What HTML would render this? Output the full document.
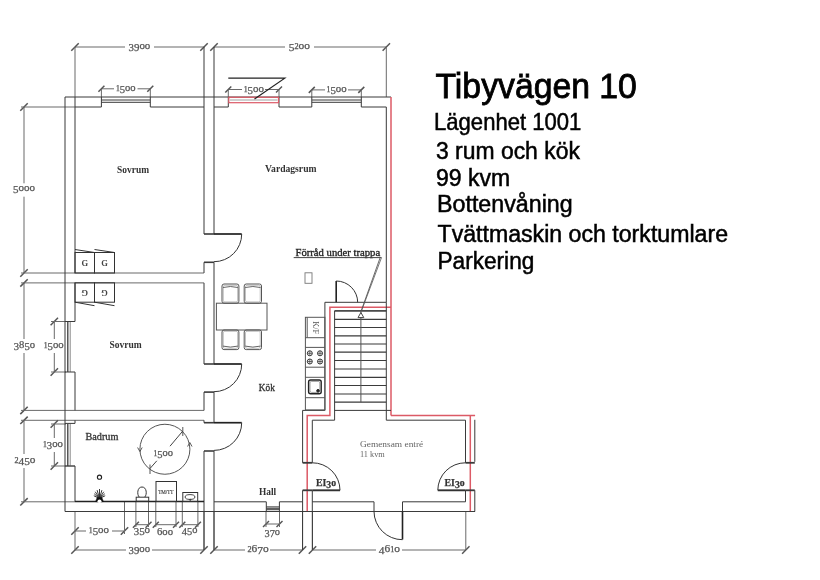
<!DOCTYPE html>
<html><head><meta charset="utf-8"><style>
html,body{margin:0;padding:0;background:#fff;width:820px;height:580px;overflow:hidden}
svg{position:absolute;left:0;top:0}
.t{position:absolute;font-family:"Liberation Sans",sans-serif;color:#000;white-space:nowrap;line-height:1}
</style></head><body>
<svg width="820" height="580" viewBox="0 0 820 580">
<defs><filter id="b" x="0" y="0" width="820" height="580" filterUnits="userSpaceOnUse"><feGaussianBlur stdDeviation="0.35"/></filter><filter id="b2" x="0" y="0" width="820" height="580" filterUnits="userSpaceOnUse"><feGaussianBlur stdDeviation="0.2"/></filter></defs>
<g filter="url(#b)">
<line x1="75" y1="47" x2="125" y2="47" stroke="#6a6a6a" stroke-width="1" />
<line x1="154" y1="47" x2="204" y2="47" stroke="#6a6a6a" stroke-width="1" />
<line x1="71.3" y1="50.7" x2="78.7" y2="43.3" stroke="#555" stroke-width="1.5" />
<line x1="200.3" y1="50.7" x2="207.7" y2="43.3" stroke="#555" stroke-width="1.5" />
<text x="128.50" y="49.00" font-family="Liberation Serif" font-size="10" font-weight="normal" fill="#555" stroke="#555" stroke-width="0.25" textLength="21.80" lengthAdjust="spacingAndGlyphs"><tspan baseline-shift="-2.03">3</tspan><tspan baseline-shift="-2.03">9</tspan><tspan>o</tspan><tspan>o</tspan></text>
<line x1="214" y1="47" x2="285" y2="47" stroke="#6a6a6a" stroke-width="1" />
<line x1="314" y1="47" x2="386.3" y2="47" stroke="#6a6a6a" stroke-width="1" />
<line x1="210.3" y1="50.7" x2="217.7" y2="43.3" stroke="#555" stroke-width="1.5" />
<line x1="382.6" y1="50.7" x2="390.0" y2="43.3" stroke="#555" stroke-width="1.5" />
<text x="288.80" y="49.00" font-family="Liberation Serif" font-size="10" font-weight="normal" fill="#555" stroke="#555" stroke-width="0.25" textLength="21.20" lengthAdjust="spacingAndGlyphs"><tspan baseline-shift="-2.03">5</tspan><tspan font-size="7.20">2</tspan><tspan>o</tspan><tspan>o</tspan></text>
<line x1="75" y1="47" x2="75" y2="97" stroke="#6a6a6a" stroke-width="1" />
<line x1="204" y1="47" x2="204" y2="97" stroke="#3a3a3a" stroke-width="1" />
<line x1="214" y1="47" x2="214" y2="97" stroke="#3a3a3a" stroke-width="1" />
<line x1="386.3" y1="47" x2="386.3" y2="97" stroke="#6a6a6a" stroke-width="1" />
<line x1="101.4" y1="88.8" x2="114" y2="88.8" stroke="#6a6a6a" stroke-width="1" />
<line x1="137.5" y1="88.8" x2="150.3" y2="88.8" stroke="#6a6a6a" stroke-width="1" />
<line x1="98.4" y1="91.8" x2="104.4" y2="85.8" stroke="#555" stroke-width="1.5" />
<line x1="147.3" y1="91.8" x2="153.3" y2="85.8" stroke="#555" stroke-width="1.5" />
<line x1="101.4" y1="88.8" x2="101.4" y2="97" stroke="#6a6a6a" stroke-width="1" />
<line x1="150.3" y1="88.8" x2="150.3" y2="97" stroke="#6a6a6a" stroke-width="1" />
<text x="115.90" y="90.80" font-family="Liberation Serif" font-size="10" font-weight="normal" fill="#555" stroke="#555" stroke-width="0.25" textLength="19.70" lengthAdjust="spacingAndGlyphs"><tspan font-size="7.20">1</tspan><tspan baseline-shift="-2.03">5</tspan><tspan>o</tspan><tspan>o</tspan></text>
<line x1="228.3" y1="89.5" x2="242" y2="89.5" stroke="#6a6a6a" stroke-width="1" />
<line x1="265" y1="89.5" x2="279" y2="89.5" stroke="#6a6a6a" stroke-width="1" />
<line x1="225.3" y1="92.5" x2="231.3" y2="86.5" stroke="#555" stroke-width="1.5" />
<line x1="276" y1="92.5" x2="282" y2="86.5" stroke="#555" stroke-width="1.5" />
<line x1="228.3" y1="89.5" x2="228.3" y2="97" stroke="#6a6a6a" stroke-width="1" />
<line x1="279" y1="89.5" x2="279" y2="97" stroke="#6a6a6a" stroke-width="1" />
<text x="243.70" y="91.50" font-family="Liberation Serif" font-size="10" font-weight="normal" fill="#555" stroke="#555" stroke-width="0.25" textLength="20.20" lengthAdjust="spacingAndGlyphs"><tspan font-size="7.20">1</tspan><tspan baseline-shift="-2.03">5</tspan><tspan>o</tspan><tspan>o</tspan></text>
<line x1="311.8" y1="89.9" x2="325" y2="89.9" stroke="#6a6a6a" stroke-width="1" />
<line x1="348" y1="89.9" x2="361.3" y2="89.9" stroke="#6a6a6a" stroke-width="1" />
<line x1="308.8" y1="92.9" x2="314.8" y2="86.9" stroke="#555" stroke-width="1.5" />
<line x1="358.3" y1="92.9" x2="364.3" y2="86.9" stroke="#555" stroke-width="1.5" />
<line x1="311.8" y1="89.9" x2="311.8" y2="97" stroke="#6a6a6a" stroke-width="1" />
<line x1="361.3" y1="89.9" x2="361.3" y2="97" stroke="#6a6a6a" stroke-width="1" />
<text x="326.60" y="91.90" font-family="Liberation Serif" font-size="10" font-weight="normal" fill="#555" stroke="#555" stroke-width="0.25" textLength="20.10" lengthAdjust="spacingAndGlyphs"><tspan font-size="7.20">1</tspan><tspan baseline-shift="-2.03">5</tspan><tspan>o</tspan><tspan>o</tspan></text>
<line x1="24" y1="107" x2="24" y2="183.3" stroke="#6a6a6a" stroke-width="1" />
<line x1="24" y1="196.7" x2="24" y2="273" stroke="#6a6a6a" stroke-width="1" />
<line x1="20.3" y1="110.7" x2="27.7" y2="103.3" stroke="#555" stroke-width="1.5" />
<line x1="20.3" y1="276.7" x2="27.7" y2="269.3" stroke="#555" stroke-width="1.5" />
<text x="13.00" y="191.29" font-family="Liberation Serif" font-size="10" font-weight="normal" fill="#555" stroke="#555" stroke-width="0.25" textLength="22.00" lengthAdjust="spacingAndGlyphs"><tspan baseline-shift="-2.03">5</tspan><tspan>o</tspan><tspan>o</tspan><tspan>o</tspan></text>
<line x1="24" y1="282.9" x2="24" y2="339" stroke="#6a6a6a" stroke-width="1" />
<line x1="24" y1="353" x2="24" y2="410.4" stroke="#6a6a6a" stroke-width="1" />
<line x1="20.3" y1="286.59999999999997" x2="27.7" y2="279.2" stroke="#555" stroke-width="1.5" />
<line x1="20.3" y1="414.09999999999997" x2="27.7" y2="406.7" stroke="#555" stroke-width="1.5" />
<text x="13.75" y="348.00" font-family="Liberation Serif" font-size="10" font-weight="normal" fill="#555" stroke="#555" stroke-width="0.25" textLength="21.25" lengthAdjust="spacingAndGlyphs"><tspan baseline-shift="-2.03">3</tspan><tspan>8</tspan><tspan baseline-shift="-2.03">5</tspan><tspan>o</tspan></text>
<line x1="24" y1="420.3" x2="24" y2="454" stroke="#6a6a6a" stroke-width="1" />
<line x1="24" y1="468" x2="24" y2="501.8" stroke="#6a6a6a" stroke-width="1" />
<line x1="20.3" y1="424.0" x2="27.7" y2="416.6" stroke="#555" stroke-width="1.5" />
<line x1="20.3" y1="505.5" x2="27.7" y2="498.1" stroke="#555" stroke-width="1.5" />
<text x="14.50" y="463.00" font-family="Liberation Serif" font-size="10" font-weight="normal" fill="#555" stroke="#555" stroke-width="0.25" textLength="21.00" lengthAdjust="spacingAndGlyphs"><tspan font-size="7.20">2</tspan><tspan baseline-shift="-2.03">4</tspan><tspan baseline-shift="-2.03">5</tspan><tspan>o</tspan></text>
<line x1="21" y1="107" x2="75" y2="107" stroke="#6a6a6a" stroke-width="1" />
<line x1="21" y1="273" x2="204" y2="273" stroke="#6a6a6a" stroke-width="1" />
<line x1="21" y1="282.9" x2="204" y2="282.9" stroke="#6a6a6a" stroke-width="1" />
<line x1="21" y1="410.4" x2="204" y2="410.4" stroke="#6a6a6a" stroke-width="1" />
<line x1="21" y1="420.3" x2="204" y2="420.3" stroke="#6a6a6a" stroke-width="1" />
<line x1="21" y1="501.8" x2="75" y2="501.8" stroke="#6a6a6a" stroke-width="1" />
<line x1="54.3" y1="321.5" x2="54.3" y2="339" stroke="#6a6a6a" stroke-width="1" />
<line x1="54.3" y1="353" x2="54.3" y2="372" stroke="#6a6a6a" stroke-width="1" />
<line x1="50.599999999999994" y1="325.2" x2="58.0" y2="317.8" stroke="#555" stroke-width="1.5" />
<line x1="50.599999999999994" y1="375.7" x2="58.0" y2="368.3" stroke="#555" stroke-width="1.5" />
<text x="43.75" y="348.00" font-family="Liberation Serif" font-size="10" font-weight="normal" fill="#555" stroke="#555" stroke-width="0.25" textLength="20.00" lengthAdjust="spacingAndGlyphs"><tspan font-size="7.20">1</tspan><tspan baseline-shift="-2.03">5</tspan><tspan>o</tspan><tspan>o</tspan></text>
<line x1="51" y1="321.5" x2="75" y2="321.5" stroke="#6a6a6a" stroke-width="1" />
<line x1="51" y1="372" x2="66" y2="372" stroke="#6a6a6a" stroke-width="1" />
<line x1="54.3" y1="424" x2="54.3" y2="438" stroke="#6a6a6a" stroke-width="1" />
<line x1="54.3" y1="452" x2="54.3" y2="466" stroke="#6a6a6a" stroke-width="1" />
<line x1="50.599999999999994" y1="427.7" x2="58.0" y2="420.3" stroke="#555" stroke-width="1.5" />
<line x1="50.599999999999994" y1="469.7" x2="58.0" y2="462.3" stroke="#555" stroke-width="1.5" />
<text x="43.00" y="447.00" font-family="Liberation Serif" font-size="10" font-weight="normal" fill="#555" stroke="#555" stroke-width="0.25" textLength="20.00" lengthAdjust="spacingAndGlyphs"><tspan font-size="7.20">1</tspan><tspan baseline-shift="-2.03">3</tspan><tspan>o</tspan><tspan>o</tspan></text>
<line x1="51" y1="466" x2="75" y2="466" stroke="#6a6a6a" stroke-width="1" />
<line x1="51" y1="424" x2="66" y2="424" stroke="#6a6a6a" stroke-width="1" />
<line x1="75" y1="531" x2="86" y2="531" stroke="#6a6a6a" stroke-width="1" />
<line x1="112" y1="531" x2="124.5" y2="531" stroke="#6a6a6a" stroke-width="1" />
<line x1="71.3" y1="534.7" x2="78.7" y2="527.3" stroke="#555" stroke-width="1.5" />
<line x1="120.8" y1="534.7" x2="128.2" y2="527.3" stroke="#555" stroke-width="1.5" />
<text x="88.80" y="533.00" font-family="Liberation Serif" font-size="10" font-weight="normal" fill="#555" stroke="#555" stroke-width="0.25" textLength="20.20" lengthAdjust="spacingAndGlyphs"><tspan font-size="7.20">1</tspan><tspan baseline-shift="-2.03">5</tspan><tspan>o</tspan><tspan>o</tspan></text>
<line x1="135.9" y1="524.7" x2="148.5" y2="524.7" stroke="#6a6a6a" stroke-width="1" />
<line x1="132.9" y1="527.7" x2="138.9" y2="521.7" stroke="#555" stroke-width="1.5" />
<line x1="145.5" y1="527.7" x2="151.5" y2="521.7" stroke="#555" stroke-width="1.5" />
<text x="133.70" y="533.00" font-family="Liberation Serif" font-size="10" font-weight="normal" fill="#555" stroke="#555" stroke-width="0.25" textLength="16.40" lengthAdjust="spacingAndGlyphs"><tspan baseline-shift="-2.03">3</tspan><tspan baseline-shift="-2.03">5</tspan><tspan>o</tspan></text>
<line x1="155.8" y1="524.7" x2="176" y2="524.7" stroke="#6a6a6a" stroke-width="1" />
<line x1="152.8" y1="527.7" x2="158.8" y2="521.7" stroke="#555" stroke-width="1.5" />
<line x1="173" y1="527.7" x2="179" y2="521.7" stroke="#555" stroke-width="1.5" />
<text x="157.00" y="535.00" font-family="Liberation Serif" font-size="10" font-weight="normal" fill="#555" stroke="#555" stroke-width="0.25" textLength="16.00" lengthAdjust="spacingAndGlyphs"><tspan>6</tspan><tspan>o</tspan><tspan>o</tspan></text>
<line x1="182.3" y1="524.7" x2="197.9" y2="524.7" stroke="#6a6a6a" stroke-width="1" />
<line x1="179.3" y1="527.7" x2="185.3" y2="521.7" stroke="#555" stroke-width="1.5" />
<line x1="194.9" y1="527.7" x2="200.9" y2="521.7" stroke="#555" stroke-width="1.5" />
<text x="181.80" y="533.00" font-family="Liberation Serif" font-size="10" font-weight="normal" fill="#555" stroke="#555" stroke-width="0.25" textLength="15.60" lengthAdjust="spacingAndGlyphs"><tspan baseline-shift="-2.03">4</tspan><tspan baseline-shift="-2.03">5</tspan><tspan>o</tspan></text>
<line x1="75" y1="550" x2="126" y2="550" stroke="#6a6a6a" stroke-width="1" />
<line x1="152" y1="550" x2="204" y2="550" stroke="#6a6a6a" stroke-width="1" />
<line x1="71.3" y1="553.7" x2="78.7" y2="546.3" stroke="#555" stroke-width="1.5" />
<line x1="200.3" y1="553.7" x2="207.7" y2="546.3" stroke="#555" stroke-width="1.5" />
<text x="128.50" y="552.00" font-family="Liberation Serif" font-size="10" font-weight="normal" fill="#555" stroke="#555" stroke-width="0.25" textLength="21.60" lengthAdjust="spacingAndGlyphs"><tspan baseline-shift="-2.03">3</tspan><tspan baseline-shift="-2.03">9</tspan><tspan>o</tspan><tspan>o</tspan></text>
<line x1="214" y1="550" x2="245" y2="550" stroke="#6a6a6a" stroke-width="1" />
<line x1="270" y1="550" x2="302.5" y2="550" stroke="#6a6a6a" stroke-width="1" />
<line x1="210.3" y1="553.7" x2="217.7" y2="546.3" stroke="#555" stroke-width="1.5" />
<line x1="298.8" y1="553.7" x2="306.2" y2="546.3" stroke="#555" stroke-width="1.5" />
<text x="247.50" y="552.00" font-family="Liberation Serif" font-size="10" font-weight="normal" fill="#555" stroke="#555" stroke-width="0.25" textLength="21.25" lengthAdjust="spacingAndGlyphs"><tspan font-size="7.20">2</tspan><tspan>6</tspan><tspan baseline-shift="-2.03">7</tspan><tspan>o</tspan></text>
<line x1="312.5" y1="550" x2="376" y2="550" stroke="#6a6a6a" stroke-width="1" />
<line x1="402" y1="550" x2="465.8" y2="550" stroke="#6a6a6a" stroke-width="1" />
<line x1="308.8" y1="553.7" x2="316.2" y2="546.3" stroke="#555" stroke-width="1.5" />
<line x1="462.1" y1="553.7" x2="469.5" y2="546.3" stroke="#555" stroke-width="1.5" />
<text x="378.75" y="552.00" font-family="Liberation Serif" font-size="10" font-weight="normal" fill="#555" stroke="#555" stroke-width="0.25" textLength="21.25" lengthAdjust="spacingAndGlyphs"><tspan baseline-shift="-2.03">4</tspan><tspan>6</tspan><tspan font-size="7.20">1</tspan><tspan>o</tspan></text>
<line x1="266" y1="524" x2="279.5" y2="524" stroke="#6a6a6a" stroke-width="1" />
<line x1="263" y1="527" x2="269" y2="521" stroke="#555" stroke-width="1.5" />
<line x1="276.5" y1="527" x2="282.5" y2="521" stroke="#555" stroke-width="1.5" />
<text x="264.50" y="535.00" font-family="Liberation Serif" font-size="10" font-weight="normal" fill="#555" stroke="#555" stroke-width="0.25" textLength="15.50" lengthAdjust="spacingAndGlyphs"><tspan baseline-shift="-2.03">3</tspan><tspan baseline-shift="-2.03">7</tspan><tspan>o</tspan></text>
<line x1="75" y1="511" x2="75" y2="550" stroke="#6a6a6a" stroke-width="1" />
<line x1="204" y1="511" x2="204" y2="550" stroke="#6a6a6a" stroke-width="1" />
<line x1="214" y1="511" x2="214" y2="550" stroke="#6a6a6a" stroke-width="1" />
<line x1="302.5" y1="511" x2="302.5" y2="550" stroke="#6a6a6a" stroke-width="1" />
<line x1="312.5" y1="511" x2="312.5" y2="550" stroke="#6a6a6a" stroke-width="1" />
<line x1="465.8" y1="511" x2="465.8" y2="550" stroke="#6a6a6a" stroke-width="1" />
<line x1="124.5" y1="501.8" x2="124.5" y2="534" stroke="#6a6a6a" stroke-width="1" />
<line x1="135.9" y1="501.8" x2="135.9" y2="527" stroke="#6a6a6a" stroke-width="1" />
<line x1="148.5" y1="501.8" x2="148.5" y2="527" stroke="#6a6a6a" stroke-width="1" />
<line x1="155.8" y1="501.8" x2="155.8" y2="527" stroke="#6a6a6a" stroke-width="1" />
<line x1="176" y1="501.8" x2="176" y2="527" stroke="#6a6a6a" stroke-width="1" />
<line x1="182.3" y1="501.8" x2="182.3" y2="527" stroke="#6a6a6a" stroke-width="1" />
<line x1="197.9" y1="501.8" x2="197.9" y2="527" stroke="#6a6a6a" stroke-width="1" />
<line x1="266" y1="511" x2="266" y2="527" stroke="#6a6a6a" stroke-width="1" />
<line x1="279.5" y1="511" x2="279.5" y2="527" stroke="#6a6a6a" stroke-width="1" />
<line x1="65" y1="97" x2="391" y2="97" stroke="#3a3a3a" stroke-width="1" />
<line x1="65" y1="97" x2="65" y2="511.5" stroke="#3a3a3a" stroke-width="1" />
<polyline points="75,107 101.4,107 101.4,97" stroke="#3a3a3a" stroke-width="1" fill="none"/>
<polyline points="150.3,97 150.3,107 204,107" stroke="#3a3a3a" stroke-width="1" fill="none"/>
<line x1="101.4" y1="100" x2="150.3" y2="100" stroke="#3a3a3a" stroke-width="1" />
<line x1="101.4" y1="102.3" x2="150.3" y2="102.3" stroke="#3a3a3a" stroke-width="1" />
<polyline points="214,107 228.3,107 228.3,97" stroke="#3a3a3a" stroke-width="1" fill="none"/>
<polyline points="279,97 279,107 311.8,107 311.8,97" stroke="#3a3a3a" stroke-width="1" fill="none"/>
<polyline points="361.3,97 361.3,107 386.3,107 386.3,302.3" stroke="#3a3a3a" stroke-width="1" fill="none"/>
<line x1="311.8" y1="100" x2="361.3" y2="100" stroke="#3a3a3a" stroke-width="1" />
<line x1="311.8" y1="102.3" x2="361.3" y2="102.3" stroke="#3a3a3a" stroke-width="1" />
<rect x="228.8" y="97.3" width="49.7" height="5.4" stroke="#dc5a66" stroke-width="1.2" fill="none" rx="0"/>
<line x1="230" y1="100" x2="277.5" y2="100" stroke="#888" stroke-width="0.8" />
<polyline points="228.3,78.2 284.8,78.2 254.5,99.1" stroke="#222" stroke-width="1.2" fill="none"/>
<line x1="391" y1="97" x2="391" y2="415.4" stroke="#dc5a66" stroke-width="1.5" />
<polyline points="391,415.4 475.1,415.4" stroke="#dc5a66" stroke-width="1.5" fill="none"/>
<line x1="470.3" y1="415.4" x2="470.3" y2="511.7" stroke="#dc5a66" stroke-width="1.5" />
<polyline points="391,307.2 329.9,307.2 329.9,415.4 307.2,415.4 307.2,511.7" stroke="#dc5a66" stroke-width="1.5" fill="none"/>
<line x1="75" y1="97" x2="75" y2="273" stroke="#3a3a3a" stroke-width="1" />
<line x1="75" y1="282.9" x2="75" y2="321.5" stroke="#3a3a3a" stroke-width="1" />
<line x1="67.8" y1="321.5" x2="67.8" y2="372" stroke="#3a3a3a" stroke-width="1.3" />
<line x1="70.2" y1="321.5" x2="70.2" y2="372" stroke="#888" stroke-width="1" />
<line x1="65" y1="321.5" x2="75" y2="321.5" stroke="#3a3a3a" stroke-width="1" />
<line x1="65" y1="372" x2="75" y2="372" stroke="#3a3a3a" stroke-width="1" />
<line x1="75" y1="372" x2="75" y2="410.4" stroke="#3a3a3a" stroke-width="1" />
<line x1="67.8" y1="424" x2="67.8" y2="466" stroke="#3a3a3a" stroke-width="1.3" />
<line x1="70.2" y1="424" x2="70.2" y2="466" stroke="#888" stroke-width="1" />
<line x1="65" y1="423.4" x2="75" y2="423.4" stroke="#3a3a3a" stroke-width="1" />
<line x1="75" y1="420.3" x2="75" y2="423.4" stroke="#3a3a3a" stroke-width="1" />
<line x1="65" y1="466" x2="75" y2="466" stroke="#3a3a3a" stroke-width="1" />
<line x1="75" y1="466" x2="75" y2="501.8" stroke="#3a3a3a" stroke-width="1" />
<line x1="204" y1="97" x2="204" y2="234" stroke="#3a3a3a" stroke-width="1" />
<line x1="204" y1="262.3" x2="204" y2="273" stroke="#3a3a3a" stroke-width="1" />
<line x1="204" y1="282.9" x2="204" y2="364" stroke="#3a3a3a" stroke-width="1" />
<line x1="204" y1="392.1" x2="204" y2="410.4" stroke="#3a3a3a" stroke-width="1" />
<line x1="204" y1="420.3" x2="204" y2="422.7" stroke="#3a3a3a" stroke-width="1" />
<line x1="204" y1="451" x2="204" y2="550" stroke="#3a3a3a" stroke-width="1" />
<line x1="214" y1="97" x2="214" y2="234" stroke="#3a3a3a" stroke-width="1" />
<line x1="214" y1="262.3" x2="214" y2="364" stroke="#3a3a3a" stroke-width="1" />
<line x1="214" y1="392.1" x2="214" y2="422.7" stroke="#3a3a3a" stroke-width="1" />
<line x1="214" y1="451" x2="214" y2="550" stroke="#3a3a3a" stroke-width="1" />
<line x1="204" y1="234" x2="214" y2="234" stroke="#3a3a3a" stroke-width="1.6" />
<line x1="204" y1="262.3" x2="214" y2="262.3" stroke="#3a3a3a" stroke-width="1.6" />
<line x1="214" y1="234" x2="241.7" y2="234" stroke="#222" stroke-width="1.7" />
<path d="M241.7,234 A27.7,27.7 0 0 1 214,261.7" stroke="#333" stroke-width="1" fill="none"/>
<line x1="204" y1="364" x2="214" y2="364" stroke="#3a3a3a" stroke-width="1.6" />
<line x1="204" y1="392.1" x2="214" y2="392.1" stroke="#3a3a3a" stroke-width="1.6" />
<line x1="214" y1="364" x2="241.7" y2="364" stroke="#222" stroke-width="1.7" />
<path d="M241.7,364 A27.7,27.7 0 0 1 214,391.7" stroke="#333" stroke-width="1" fill="none"/>
<line x1="204" y1="422.7" x2="214" y2="422.7" stroke="#3a3a3a" stroke-width="1.6" />
<line x1="204" y1="451" x2="214" y2="451" stroke="#3a3a3a" stroke-width="1.6" />
<line x1="214" y1="422.7" x2="241.7" y2="422.7" stroke="#222" stroke-width="1.7" />
<path d="M241.7,422.7 A27.7,27.7 0 0 1 214,450.4" stroke="#333" stroke-width="1" fill="none"/>
<line x1="75" y1="501.5" x2="204" y2="501.5" stroke="#222" stroke-width="1.4" />
<line x1="65" y1="511.5" x2="475" y2="511.5" stroke="#3a3a3a" stroke-width="1" />
<polyline points="214,501.8 266.3,501.8 266.3,511.5" stroke="#3a3a3a" stroke-width="1" fill="none"/>
<polyline points="279.4,511.5 279.4,501.8 302.6,501.8" stroke="#3a3a3a" stroke-width="1" fill="none"/>
<line x1="266.3" y1="506.9" x2="279.4" y2="506.9" stroke="#3a3a3a" stroke-width="1" />
<line x1="266.3" y1="508.3" x2="279.4" y2="508.3" stroke="#3a3a3a" stroke-width="1" />
<line x1="266.3" y1="509.7" x2="279.4" y2="509.7" stroke="#3a3a3a" stroke-width="1" />
<line x1="302.6" y1="410.4" x2="302.6" y2="462.8" stroke="#3a3a3a" stroke-width="1" />
<line x1="302.6" y1="490.3" x2="302.6" y2="550" stroke="#3a3a3a" stroke-width="1" />
<line x1="312.3" y1="420.2" x2="312.3" y2="462.8" stroke="#3a3a3a" stroke-width="1" />
<line x1="312.3" y1="490.3" x2="312.3" y2="550" stroke="#3a3a3a" stroke-width="1" />
<polyline points="312.3,501.8 374,501.8 374,511.5" stroke="#3a3a3a" stroke-width="1" fill="none"/>
<polyline points="402.5,511.5 402.5,501.8 465.5,501.8" stroke="#3a3a3a" stroke-width="1" fill="none"/>
<line x1="402.5" y1="511.5" x2="402.5" y2="539.5" stroke="#222" stroke-width="1.6" />
<path d="M374,511.5 A28.5,28.5 0 0 0 402.5,539.7" stroke="#333" stroke-width="1" fill="none"/>
<polyline points="386.3,302.3 386.3,420.2 465.5,420.2 465.5,462.8" stroke="#3a3a3a" stroke-width="1" fill="none"/>
<line x1="465.5" y1="490.3" x2="465.5" y2="501.8" stroke="#3a3a3a" stroke-width="1" />
<line x1="474.8" y1="419.8" x2="474.8" y2="461.8" stroke="#3a3a3a" stroke-width="1" />
<line x1="474.8" y1="490.3" x2="474.8" y2="511.5" stroke="#3a3a3a" stroke-width="1" />
<line x1="302.6" y1="462.8" x2="312.3" y2="462.8" stroke="#3a3a3a" stroke-width="1.8" />
<line x1="302.6" y1="490.3" x2="312.3" y2="490.3" stroke="#3a3a3a" stroke-width="1.8" />
<line x1="465.5" y1="462.8" x2="474.8" y2="462.8" stroke="#3a3a3a" stroke-width="1.8" />
<line x1="465.5" y1="490.3" x2="474.8" y2="490.3" stroke="#3a3a3a" stroke-width="1.8" />
<line x1="312.3" y1="490.3" x2="340" y2="490.3" stroke="#333" stroke-width="1.9" />
<path d="M340,490.3 A27.6,27.6 0 0 0 312.3,462.8" stroke="#333" stroke-width="1" fill="none"/>
<line x1="437.8" y1="490.3" x2="465.5" y2="490.3" stroke="#333" stroke-width="1.9" />
<path d="M437.8,490.3 A27.6,27.6 0 0 1 465.5,462.8" stroke="#333" stroke-width="1" fill="none"/>
<polyline points="302.6,410.4 324.9,410.4 324.9,302.3 386.3,302.3" stroke="#3a3a3a" stroke-width="1" fill="none"/>
<polyline points="312.3,420.2 334.6,420.2 334.6,310.9 386.3,310.9" stroke="#3a3a3a" stroke-width="1" fill="none"/>
<line x1="334.6" y1="410.4" x2="391" y2="410.4" stroke="#3a3a3a" stroke-width="1" />
<line x1="334.6" y1="310.9" x2="386.3" y2="310.9" stroke="#3a3a3a" stroke-width="1.2" />
<line x1="334.6" y1="319.4" x2="386.3" y2="319.4" stroke="#3a3a3a" stroke-width="1.2" />
<line x1="334.6" y1="327.5" x2="386.3" y2="327.5" stroke="#3a3a3a" stroke-width="1.2" />
<line x1="334.6" y1="335.8" x2="386.3" y2="335.8" stroke="#3a3a3a" stroke-width="1.2" />
<line x1="334.6" y1="344" x2="386.3" y2="344" stroke="#3a3a3a" stroke-width="1.2" />
<line x1="334.6" y1="352.2" x2="386.3" y2="352.2" stroke="#3a3a3a" stroke-width="1.2" />
<line x1="334.6" y1="360.5" x2="386.3" y2="360.5" stroke="#3a3a3a" stroke-width="1.2" />
<line x1="334.6" y1="369" x2="386.3" y2="369" stroke="#3a3a3a" stroke-width="1.2" />
<line x1="334.6" y1="377.3" x2="386.3" y2="377.3" stroke="#3a3a3a" stroke-width="1.2" />
<line x1="334.6" y1="385.5" x2="386.3" y2="385.5" stroke="#3a3a3a" stroke-width="1.2" />
<line x1="334.6" y1="394" x2="386.3" y2="394" stroke="#3a3a3a" stroke-width="1.2" />
<line x1="334.6" y1="402.2" x2="386.3" y2="402.2" stroke="#3a3a3a" stroke-width="1.2" />
<line x1="360.9" y1="310.9" x2="360.9" y2="402.2" stroke="#555" stroke-width="1" />
<path d="M360.9,312.5 L358,317.6 L363.8,317.6 Z" stroke="#444" stroke-width="1" fill="#fff"/>
<line x1="336.2" y1="281" x2="336.2" y2="302.3" stroke="#222" stroke-width="1.6" />
<path d="M336.2,281 A21.5,21.5 0 0 1 357.7,302.3" stroke="#333" stroke-width="1" fill="none"/>
<line x1="380" y1="258" x2="361.5" y2="310" stroke="#444" stroke-width="0.8" />
<text x="117" y="172.8" font-family="Liberation Serif" font-size="10.5" font-weight="bold" fill="#333"  textLength="32" lengthAdjust="spacingAndGlyphs">Sovrum</text>
<text x="265" y="171.7" font-family="Liberation Serif" font-size="10.5" font-weight="bold" fill="#333"  textLength="51.5" lengthAdjust="spacingAndGlyphs">Vardagsrum</text>
<text x="109.5" y="348.1" font-family="Liberation Serif" font-size="10.5" font-weight="bold" fill="#333"  textLength="32.3" lengthAdjust="spacingAndGlyphs">Sovrum</text>
<text x="258.8" y="390.6" font-family="Liberation Serif" font-size="10.5" font-weight="normal" fill="#333" stroke="#333" stroke-width="0.35" textLength="16.1" lengthAdjust="spacingAndGlyphs">Kök</text>
<text x="85.5" y="439.5" font-family="Liberation Serif" font-size="10.5" font-weight="normal" fill="#333" stroke="#333" stroke-width="0.3" textLength="32.9" lengthAdjust="spacingAndGlyphs">Badrum</text>
<text x="259" y="495.2" font-family="Liberation Serif" font-size="10" font-weight="bold" fill="#333"  textLength="17.2" lengthAdjust="spacingAndGlyphs">Hall</text>
<text x="295.5" y="255.9" font-family="Liberation Serif" font-size="9.5" font-weight="normal" fill="#222" stroke="#222" stroke-width="0.3" textLength="84.7" lengthAdjust="spacingAndGlyphs">Förråd under trappa</text>
<line x1="293.7" y1="257.6" x2="381.5" y2="257.6" stroke="#444" stroke-width="1" />
<line x1="381.5" y1="257.6" x2="361.8" y2="310" stroke="#555" stroke-width="0.8" />
<text x="360" y="446.7" font-family="Liberation Serif" font-size="8.5" font-weight="normal" fill="#666"  textLength="63.2" lengthAdjust="spacingAndGlyphs">Gemensam entré</text>
<text x="360" y="457" font-family="Liberation Serif" font-size="8.5" font-weight="normal" fill="#666"  textLength="24.7" lengthAdjust="spacingAndGlyphs">11 kvm</text>
<text x="315.90" y="485.61" font-family="Liberation Serif" font-size="10.5" font-weight="bold" fill="#333" stroke="#333" stroke-width="0.25" textLength="20.19" lengthAdjust="spacingAndGlyphs"><tspan>E</tspan><tspan>I</tspan><tspan baseline-shift="-2.13">3</tspan><tspan>o</tspan></text>
<text x="444.50" y="485.61" font-family="Liberation Serif" font-size="10.5" font-weight="bold" fill="#333" stroke="#333" stroke-width="0.25" textLength="20.19" lengthAdjust="spacingAndGlyphs"><tspan>E</tspan><tspan>I</tspan><tspan baseline-shift="-2.13">3</tspan><tspan>o</tspan></text>
<rect x="75" y="252.5" width="19.5" height="20.5" stroke="#333" stroke-width="1" fill="none" rx="0"/>
<line x1="75" y1="249.5" x2="94.5" y2="252.5" stroke="#333" stroke-width="1" />
<text x="84.75" y="265.5" font-family="Liberation Serif" font-size="8.5" font-weight="bold" fill="#444" text-anchor="middle" >G</text>
<rect x="94.5" y="252.5" width="20.0" height="20.5" stroke="#333" stroke-width="1" fill="none" rx="0"/>
<line x1="94.5" y1="249.5" x2="114.5" y2="252.5" stroke="#333" stroke-width="1" />
<text x="104.5" y="265.5" font-family="Liberation Serif" font-size="8.5" font-weight="bold" fill="#444" text-anchor="middle" >G</text>
<rect x="75" y="282.8" width="19.5" height="19.399999999999977" stroke="#333" stroke-width="1" fill="none" rx="0"/>
<line x1="75" y1="302.2" x2="94.5" y2="305.7" stroke="#333" stroke-width="1" />
<text x="84.75" y="295.3" font-family="Liberation Serif" font-size="8.5" font-weight="bold" fill="#444" text-anchor="middle" transform="rotate(180 84.75 292.5)">G</text>
<rect x="94.5" y="282.8" width="20.0" height="19.399999999999977" stroke="#333" stroke-width="1" fill="none" rx="0"/>
<line x1="94.5" y1="302.2" x2="114.5" y2="305.7" stroke="#333" stroke-width="1" />
<text x="104.5" y="295.3" font-family="Liberation Serif" font-size="8.5" font-weight="bold" fill="#444" text-anchor="middle" transform="rotate(180 104.5 292.5)">G</text>
<rect x="305" y="272.8" width="7" height="10.5" stroke="#777" stroke-width="0.9" fill="none" rx="0"/>
<rect x="216.4" y="303.2" width="50.6" height="26.8" stroke="#555" stroke-width="1" fill="#fff" rx="0"/>
<rect x="222" y="284" width="16.9" height="19.2" stroke="#555" stroke-width="1" fill="none" rx="2"/>
<rect x="223.3" y="285.3" width="14.299999999999999" height="16.599999999999998" stroke="#999" stroke-width="0.6" fill="none" rx="1.5"/>
<path d="M223,287.5 Q230.45,285.5 237.9,287.5" stroke="#555" stroke-width="0.9" fill="none"/>
<rect x="244.2" y="284" width="17.3" height="19.2" stroke="#555" stroke-width="1" fill="none" rx="2"/>
<rect x="245.5" y="285.3" width="14.700000000000001" height="16.599999999999998" stroke="#999" stroke-width="0.6" fill="none" rx="1.5"/>
<path d="M245.2,287.5 Q252.85,285.5 260.5,287.5" stroke="#555" stroke-width="0.9" fill="none"/>
<rect x="222" y="330" width="16.9" height="19.6" stroke="#555" stroke-width="1" fill="none" rx="2"/>
<rect x="223.3" y="331.3" width="14.299999999999999" height="17.0" stroke="#999" stroke-width="0.6" fill="none" rx="1.5"/>
<path d="M223,346.1 Q230.45,348.1 237.9,346.1" stroke="#555" stroke-width="0.9" fill="none"/>
<rect x="244.2" y="330" width="17.3" height="19.6" stroke="#555" stroke-width="1" fill="none" rx="2"/>
<rect x="245.5" y="331.3" width="14.700000000000001" height="17.0" stroke="#999" stroke-width="0.6" fill="none" rx="1.5"/>
<path d="M245.2,346.1 Q252.85,348.1 260.5,346.1" stroke="#555" stroke-width="0.9" fill="none"/>
<rect x="305.4" y="317.3" width="19.5" height="92.6" stroke="#555" stroke-width="1" fill="none" rx="0"/>
<line x1="307.2" y1="317.3" x2="307.2" y2="337.7" stroke="#555" stroke-width="1" />
<line x1="305.4" y1="337.7" x2="324.9" y2="337.7" stroke="#555" stroke-width="1" />
<line x1="305.4" y1="347.4" x2="324.9" y2="347.4" stroke="#555" stroke-width="1" />
<line x1="305.4" y1="367.2" x2="324.9" y2="367.2" stroke="#555" stroke-width="1" />
<line x1="305.4" y1="377.3" x2="324.9" y2="377.3" stroke="#555" stroke-width="1" />
<line x1="305.4" y1="397.7" x2="324.9" y2="397.7" stroke="#555" stroke-width="1" />
<text x="0" y="0" font-family="Liberation Serif" font-size="8" fill="#555" textLength="13" lengthAdjust="spacingAndGlyphs" transform="translate(313.2,321.2) rotate(90)">K/F</text>
<circle cx="309.8" cy="353.3" r="2.5" stroke="#333" stroke-width="1" fill="none"/>
<line x1="307.3" y1="353.3" x2="312.3" y2="353.3" stroke="#444" stroke-width="0.8" />
<line x1="309.8" y1="350.8" x2="309.8" y2="355.8" stroke="#444" stroke-width="0.8" />
<circle cx="309.8" cy="361.5" r="2.5" stroke="#333" stroke-width="1" fill="none"/>
<line x1="307.3" y1="361.5" x2="312.3" y2="361.5" stroke="#444" stroke-width="0.8" />
<line x1="309.8" y1="359.0" x2="309.8" y2="364.0" stroke="#444" stroke-width="0.8" />
<circle cx="320" cy="353.3" r="2.5" stroke="#333" stroke-width="1" fill="none"/>
<line x1="317.5" y1="353.3" x2="322.5" y2="353.3" stroke="#444" stroke-width="0.8" />
<line x1="320" y1="350.8" x2="320" y2="355.8" stroke="#444" stroke-width="0.8" />
<circle cx="320" cy="361.5" r="2.5" stroke="#333" stroke-width="1" fill="none"/>
<line x1="317.5" y1="361.5" x2="322.5" y2="361.5" stroke="#444" stroke-width="0.8" />
<line x1="320" y1="359.0" x2="320" y2="364.0" stroke="#444" stroke-width="0.8" />
<rect x="308.6" y="380" width="12.6" height="13.8" stroke="#222" stroke-width="1.4" fill="none" rx="2"/>
<rect x="310" y="381.4" width="9.8" height="11" stroke="#666" stroke-width="0.6" fill="none" rx="1.5"/>
<circle cx="318" cy="390.8" r="1.3" stroke="#222" stroke-width="1" fill="#222"/>
<circle cx="164.9" cy="449.25" r="25" stroke="#555" stroke-width="1" fill="none"/>
<line x1="182.8" y1="431" x2="170" y2="446.2" stroke="#444" stroke-width="1" />
<line x1="156.8" y1="460.8" x2="150" y2="468.5" stroke="#444" stroke-width="1" />
<line x1="182.8" y1="427" x2="182.8" y2="436" stroke="#444" stroke-width="0.9" />
<line x1="150" y1="464.5" x2="150" y2="474" stroke="#444" stroke-width="0.9" />
<path d="M137.6,447.5 L139.9,451.5 L142.2,447.5" stroke="#444" stroke-width="0.9" fill="none"/>
<path d="M187.6,446.5 L189.8,442.5 L192,446.5" stroke="#444" stroke-width="0.9" fill="none"/>
<text x="153.50" y="456.00" font-family="Liberation Serif" font-size="10" font-weight="normal" fill="#555" stroke="#555" stroke-width="0.25" textLength="19.50" lengthAdjust="spacingAndGlyphs"><tspan font-size="7.20">1</tspan><tspan baseline-shift="-2.03">5</tspan><tspan>o</tspan><tspan>o</tspan></text>
<circle cx="99.5" cy="477.2" r="2.1" stroke="#222" stroke-width="1.1" fill="none"/>
<line x1="99.5" y1="498.5" x2="93.84" y2="495.74" stroke="#222" stroke-width="0.9" />
<line x1="99.5" y1="498.5" x2="94.22" y2="493.75" stroke="#222" stroke-width="0.9" />
<line x1="99.5" y1="498.5" x2="95.31" y2="491.8" stroke="#222" stroke-width="0.9" />
<line x1="99.5" y1="498.5" x2="97.1" y2="490.14" stroke="#222" stroke-width="0.9" />
<line x1="99.5" y1="498.5" x2="99.5" y2="489.0" stroke="#222" stroke-width="0.9" />
<line x1="99.5" y1="498.5" x2="101.9" y2="490.14" stroke="#222" stroke-width="0.9" />
<line x1="99.5" y1="498.5" x2="103.69" y2="491.8" stroke="#222" stroke-width="0.9" />
<line x1="99.5" y1="498.5" x2="104.78" y2="493.75" stroke="#222" stroke-width="0.9" />
<line x1="99.5" y1="498.5" x2="105.16" y2="495.74" stroke="#222" stroke-width="0.9" />
<path d="M95.6,501.6 L97.2,497.4 L101.8,497.4 L103.4,501.6 Z" stroke="#111" stroke-width="0.6" fill="#111"/>
<ellipse cx="99.5" cy="501.2" rx="2" ry="1.8" fill="#fff"/>
<path d="M139.2,497 C136.8,494.5 137.2,487 142,487 C146.8,487 147.2,494.5 144.8,497" stroke="#333" stroke-width="1" fill="none"/>
<rect x="136.2" y="497.2" width="12.5" height="4.1" stroke="#333" stroke-width="1" fill="none" rx="0"/>
<rect x="156" y="481.5" width="20.5" height="20" stroke="#333" stroke-width="1" fill="none" rx="0"/>
<text x="158.2" y="493.8" font-family="Liberation Serif" font-size="6" fill="#444" stroke="#444" stroke-width="0.2" textLength="15.3" lengthAdjust="spacingAndGlyphs">TM/TT</text>
<rect x="182.8" y="492.5" width="14.9" height="9" stroke="#333" stroke-width="1" fill="none" rx="0"/>
<ellipse cx="190" cy="497" rx="4.9" ry="2.4" stroke="#333" stroke-width="0.9" fill="none"/>
<circle cx="190.2" cy="499.8" r="0.6" stroke="#333" stroke-width="0.8" fill="#333"/>
</g>
<g filter="url(#b2)">
<text x="435.50" y="97.8" font-family="Liberation Sans" font-size="34.2" fill="#000" stroke="#000" stroke-width="0.8" textLength="201.40" lengthAdjust="spacingAndGlyphs">Tibyvägen 10</text>
<text x="434.00" y="129.8" font-family="Liberation Sans" font-size="23.2" fill="#000" stroke="#000" stroke-width="0.5" textLength="147.40" lengthAdjust="spacingAndGlyphs">Lägenhet 1001</text>
<text x="436.00" y="159.2" font-family="Liberation Sans" font-size="23" fill="#000" stroke="#000" stroke-width="0.5" textLength="143.87" lengthAdjust="spacingAndGlyphs">3 rum och kök</text>
<text x="436.00" y="186.3" font-family="Liberation Sans" font-size="23" fill="#000" stroke="#000" stroke-width="0.5" textLength="74.14" lengthAdjust="spacingAndGlyphs">99 kvm</text>
<text x="437.00" y="211.8" font-family="Liberation Sans" font-size="23" fill="#000" stroke="#000" stroke-width="0.5" textLength="135.74" lengthAdjust="spacingAndGlyphs">Bottenvåning</text>
<text x="437.50" y="241.8" font-family="Liberation Sans" font-size="23" fill="#000" stroke="#000" stroke-width="0.5" textLength="290.51" lengthAdjust="spacingAndGlyphs">Tvättmaskin och torktumlare</text>
<text x="437.50" y="268.5" font-family="Liberation Sans" font-size="23" fill="#000" stroke="#000" stroke-width="0.5" textLength="96.80" lengthAdjust="spacingAndGlyphs">Parkering</text>
</g>
</svg>
</body></html>
